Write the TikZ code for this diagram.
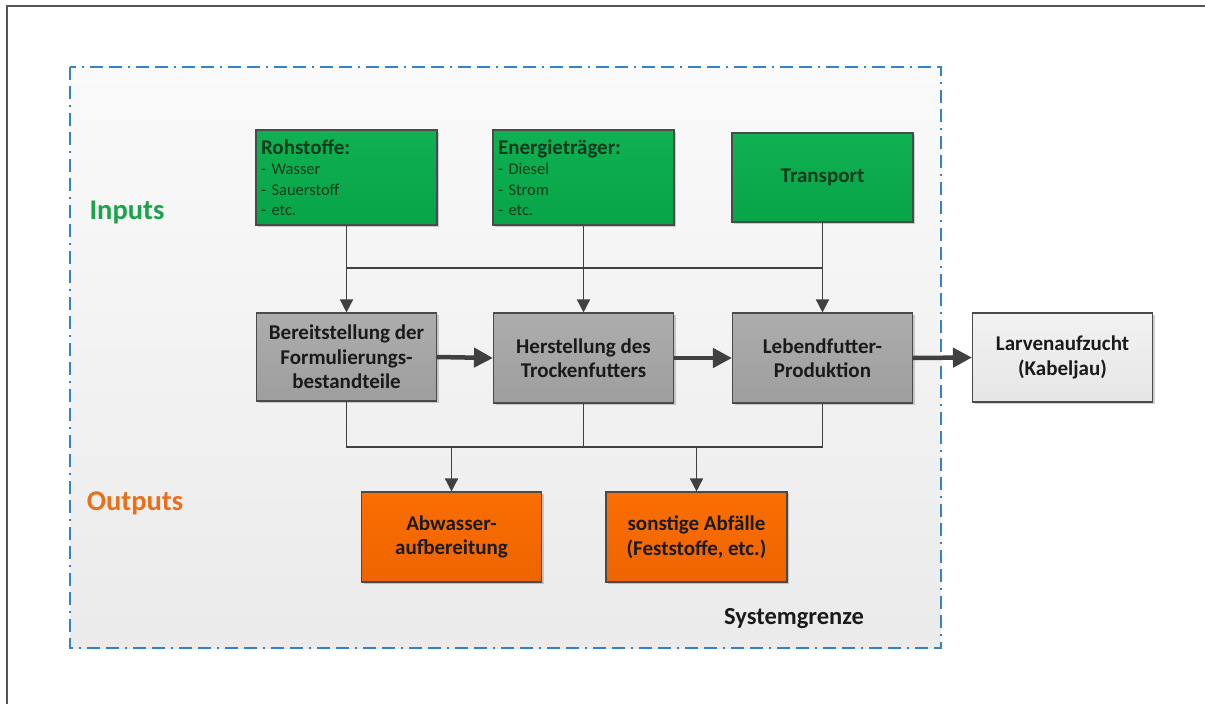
\documentclass[tikz,border=0pt]{standalone}
\usepackage{fontspec}
\setmainfont{Carlito}
\usetikzlibrary{arrows.meta,shadows}

\definecolor{framegray}{HTML}{555555}
\definecolor{linegray}{HTML}{404040}
\definecolor{boxline}{HTML}{4A4A4A}
\definecolor{textdark}{HTML}{1A1A1A}
\definecolor{greentext}{HTML}{0F3A1C}
\definecolor{greenA}{HTML}{10B152}
\definecolor{greenB}{HTML}{07A448}
\definecolor{grayA}{HTML}{ADADAD}
\definecolor{grayB}{HTML}{9E9E9E}
\definecolor{lightA}{HTML}{F2F2F2}
\definecolor{lightB}{HTML}{E6E6E6}
\definecolor{orangeA}{HTML}{FA6E02}
\definecolor{orangeB}{HTML}{EE6400}
\definecolor{boundblue}{HTML}{3383C6}
\definecolor{inputgreen}{HTML}{1BA24B}
\definecolor{outputorange}{HTML}{E8701A}

\tikzset{
  box/.style={draw=boxline, line width=1.1pt, inner sep=0pt,
    minimum width=180pt, minimum height=90pt, text=textdark, align=center,
    font=\bfseries\fontsize{21}{24.5}\selectfont,
    drop shadow={shadow xshift=2pt, shadow yshift=-2pt, fill=black, opacity=0.18}},
  inbox/.style={box, top color=greenA, bottom color=greenB, text=greentext},
  listbox/.style={inbox, inner xsep=5pt, text width=171pt, align=left,
    font=\fontsize{16.5}{20.5}\selectfont},
  procbox/.style={box, top color=grayA, bottom color=grayB},
  targetbox/.style={box, top color=lightA, bottom color=lightB},
  outbox/.style={box, top color=orangeA, bottom color=orangeB},
  flow/.style={draw=linegray, line width=1.5pt},
  flowarrow/.style={flow, -{Triangle[length=13pt,width=13pt]}},
  mainarrow/.style={draw=linegray, line width=4.5pt, -{Triangle[length=19pt,width=19pt]}},
  boundary/.style={draw=boundblue, line width=2pt,
    dash pattern=on 13pt off 6pt on 13pt off 6pt on 2pt off 6pt},
  sidelabel/.style={font=\bfseries\fontsize{28.5}{30}\selectfont}
}

\begin{document}
\begin{tikzpicture}[x=1pt,y=-1pt]
  \useasboundingbox (0,0) rectangle (1205,704);
  \fill[white] (0,0) rectangle (1205,704);
  % sheet edge
  \draw[framegray, line width=1.6pt] (7,704) -- (7,6) -- (1205,6);

  % system boundary
  \shade[top color=white!98!black, bottom color=black!8] (70,67) rectangle (941,648);
  \draw[boundary] (70,67) rectangle (941,648);

  % inputs
  \node[listbox, minimum height=95pt] (roh) at (346.5,177.5)
    {{\bfseries\fontsize{21}{20}\selectfont Rohstoffe:}\\- Wasser\\- Sauerstoff\\- etc.};
  \node[listbox, minimum height=95pt] (energie) at (583.5,177.5)
    {{\bfseries\fontsize{21}{20}\selectfont Energieträger:}\\- Diesel\\- Strom\\- etc.};
  \node[inbox, minimum width=181pt, minimum height=89pt] (transp) at (822.5,177.5) {Transport};

  % process chain
  \node[procbox, minimum height=88pt] (bereit) at (346.5,357)
    {Bereitstellung der\\Formulierungs-\\bestandteile};
  \node[procbox] (herst) at (583.5,358) {Herstellung des\\Trockenfutters};
  \node[procbox] (leb) at (822.5,358) {Lebendfutter-\\Produktion};
  \node[targetbox, minimum height=89pt] (larven) at (1062.5,357.5) {Larvenaufzucht\\(Kabeljau)};

  % outputs
  \node[outbox] (abw) at (451.5,537) {Abwasser-\\aufbereitung};
  \node[outbox, minimum width=181pt] (sonst) at (696.5,537) {sonstige Abfälle\\(Feststoffe, etc.)};

  % side labels
  \node[sidelabel, text=inputgreen] (lin) at (127,212) {Inputs};
  \node[sidelabel, text=outputorange] (lout) at (135,503) {Outputs};
  \node[font=\bfseries\fontsize{24.5}{26}\selectfont, text=textdark] (sg) at (794,619) {Systemgrenze};

  % input bus
  \coordinate (busin) at (0,268);
  \draw[flowarrow] (roh.south) -- (roh.south |- bereit.north);
  \draw[flowarrow] (energie.south) -- (energie.south |- herst.north);
  \draw[flowarrow] (transp.south) -- (transp.south |- leb.north);
  \draw[flow] (roh.south |- busin) -- (transp.south |- busin);

  % main flow
  \draw[mainarrow] (bereit.east) -- (herst.west);
  \draw[mainarrow] (herst.east) -- (leb.west);
  \draw[mainarrow] (leb.east) -- (larven.west);

  % output bus
  \coordinate (busout) at (0,447);
  \draw[flow] (bereit.south) -- (bereit.south |- busout) -- (leb.south |- busout) -- (leb.south);
  \draw[flow] (herst.south) -- (herst.south |- busout);
  \draw[flowarrow] (abw.north |- busout) -- (abw.north);
  \draw[flowarrow] (sonst.north |- busout) -- (sonst.north);
\end{tikzpicture}
\end{document}
